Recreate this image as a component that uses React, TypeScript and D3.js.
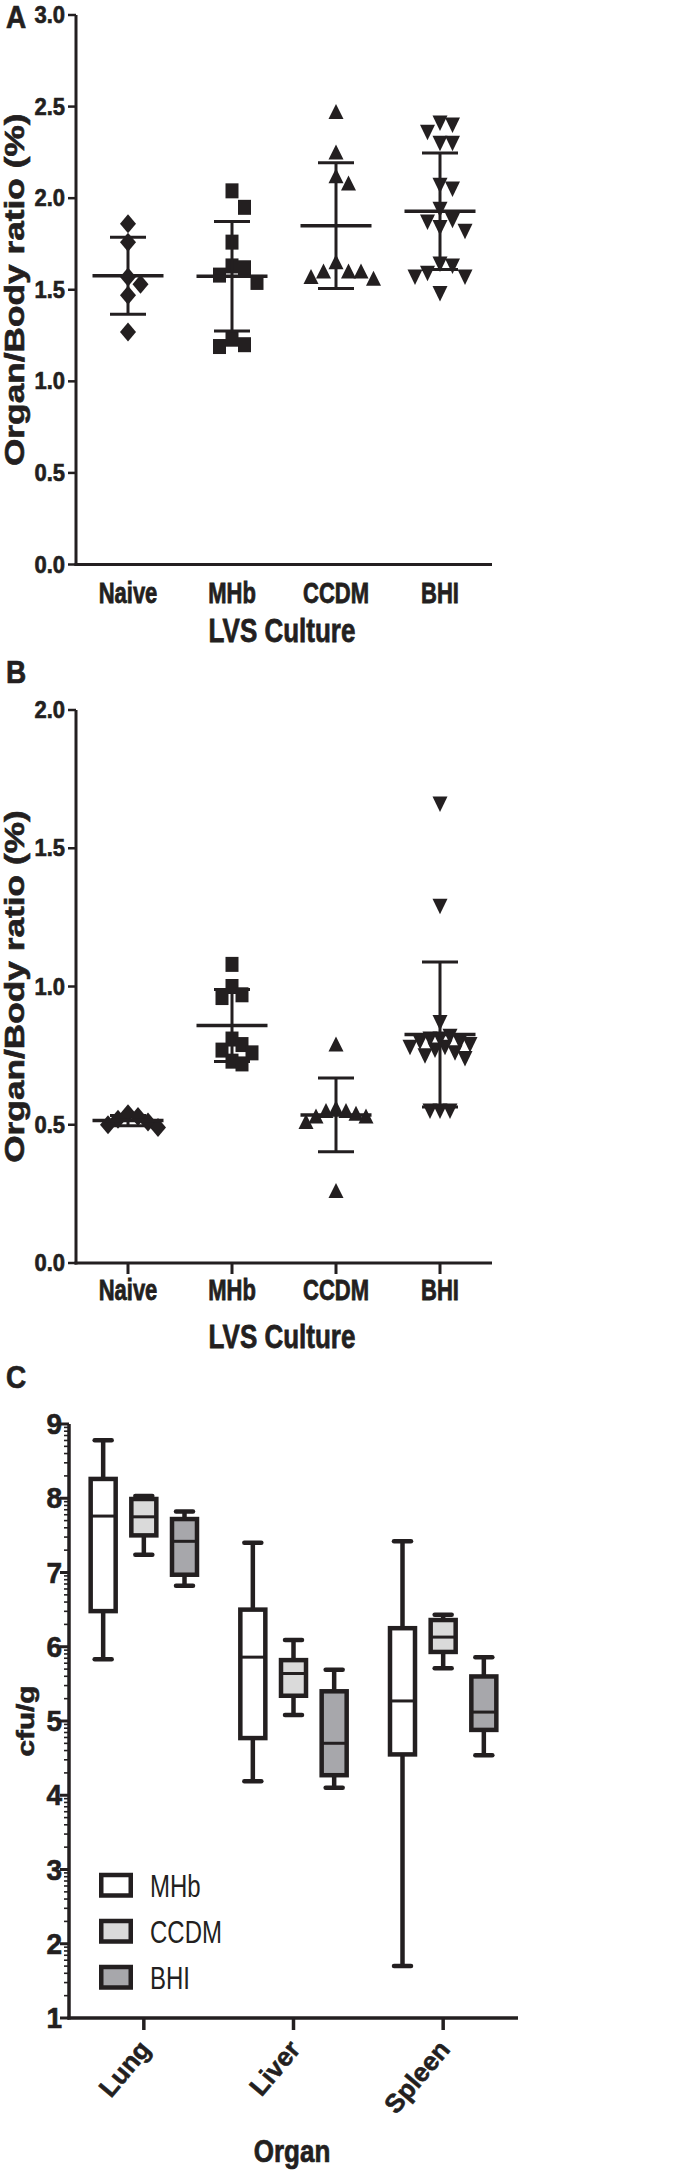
import * as d3 from 'd3'

const ink = '#231f20'
const font = "'Liberation Sans', Arial, Helvetica, sans-serif"

const cultures = ['Naive', 'MHb', 'CCDM', 'BHI']
const markerTypes = ['diamond', 'square', 'triangle', 'triangleDown']

// panel A: organ/body ratio, one array per culture
const naiveA = [1.86, 1.76, 1.57, 1.53, 1.47, 1.27]
const mhbA = [2.04, 1.95, 1.76, 1.63, 1.62, 1.58, 1.54, 1.23, 1.2, 1.19]
const ccdmA = [2.47, 2.25, 2.12, 2.08, 1.65, 1.6, 1.6, 1.6, 1.57, 1.56]
const bhiA = [2.41, 2.4, 2.36, 2.3, 2.3, 2.07, 2.05, 1.94, 1.88, 1.87, 1.84, 1.82, 1.64, 1.63, 1.59, 1.57, 1.57, 1.48]
const ticksA = [0, 0.5, 1, 1.5, 2, 2.5, 3]

// panel B
const naiveB = [0.54, 0.53, 0.52, 0.51, 0.5, 0.49]
const mhbB = [1.08, 1.0, 0.97, 0.96, 0.81, 0.79, 0.77, 0.76, 0.73, 0.72]
const ccdmB = [0.79, 0.56, 0.55, 0.55, 0.54, 0.53, 0.53, 0.51, 0.26]
const bhiB = [1.66, 1.29, 0.87, 0.82, 0.81, 0.81, 0.8, 0.8, 0.79, 0.78, 0.78, 0.77, 0.76, 0.75, 0.74, 0.55, 0.55, 0.55]
const ticksB = [0, 0.5, 1, 1.5, 2]

// panel C: box plots, [min, q1, median, q3, max]
const organs = ['Lung', 'Liver', 'Spleen']
const boxCultures = ['MHb', 'CCDM', 'BHI']
const boxFills = ['#ffffff', '#dadada', '#a7a7ab']
const lungBoxes = [[5.83, 6.48, 7.76, 8.26, 8.78], [7.24, 7.5, 7.75, 7.99, 8.03], [6.82, 6.97, 7.42, 7.72, 7.82]]
const liverBoxes = [[4.19, 4.77, 5.86, 6.5, 7.4], [5.08, 5.34, 5.64, 5.82, 6.09], [4.1, 4.27, 4.7, 5.4, 5.69]]
const spleenBoxes = [[1.7, 4.55, 5.27, 6.25, 7.42], [5.71, 5.93, 6.13, 6.36, 6.43], [4.54, 4.88, 5.12, 5.6, 5.86]]
const ticksC = [1, 2, 3, 4, 5, 6, 7, 8, 9]

// the figure is stretched vertically, so text gets a y scale
function Label({ x, y, size, k = 1.25, rotate = 0, anchor = 'middle', weight = 'bold', children }: any) {
  const heavy = weight === 'bold'
  return (
    <text
      transform={`translate(${x},${y}) scale(1,${k}) rotate(${rotate})`}
      fontSize={size}
      fontWeight={weight}
      fontFamily={font}
      textAnchor={anchor}
      fill={ink}
      stroke={heavy ? ink : 'none'}
      strokeWidth={heavy ? 0.6 : 0}
    >
      {children}
    </text>
  )
}

function markerPath(type: string, cx: number, cy: number) {
  if (type === 'diamond') return `M${cx},${cy - 9.5}L${cx + 8},${cy}L${cx},${cy + 9.5}L${cx - 8},${cy}Z`
  if (type === 'square') return `M${cx - 6.5},${cy - 7.5}h13v15h-13Z`
  if (type === 'triangle') return `M${cx},${cy - 8}L${cx + 7.5},${cy + 7}L${cx - 7.5},${cy + 7}Z`
  return `M${cx - 7.5},${cy - 7.5}L${cx + 7.5},${cy - 7.5}L${cx},${cy + 8}Z`
}

// simple beeswarm: spread points that sit close in y
function swarm(values: number[], y: (v: number) => number, s: number, h: number, K: number) {
  const order = d3.range(values.length).sort((a, b) => values[b] - values[a])
  const placed: { dx: number, py: number }[] = []
  const out: number[] = new Array(values.length).fill(0)
  const whole = [0]
  for (let k = 1; k <= K; k++) whole.push(k, -k)
  const half: number[] = []
  for (let k = 0; k < K; k++) half.push(k + 0.5, -(k + 0.5))
  for (const i of order) {
    const py = y(values[i])
    const hits = (c: number, tol: number) =>
      placed.filter(p => Math.abs(p.dx - c * s) < s * tol && Math.abs(p.py - py) < h).length
    let chosen = whole.find(c => hits(c, 0.9) === 0)
    if (chosen === undefined) chosen = half.find(c => hits(c, 0.4) === 0)
    if (chosen === undefined) chosen = d3.least(whole, c => hits(c, 0.4)) ?? 0
    placed.push({ dx: chosen * s, py })
    out[i] = chosen * s
  }
  return out
}

function ScatterPanel({ series, domain, range, ticks, letter, letterY, labelY, titleY, xTicks, spread }: any) {
  const x = d3.scaleBand(cultures, [76, 492])
  const y = d3.scaleLinear(domain, range)
  const [yBottom, yTop] = range
  const mid = (yBottom + yTop) / 2
  return (
    <g>
      <Label x={6} y={letterY} size={28} k={1.12} anchor="start">{letter}</Label>
      {series.map((vals: number[], i: number) => {
        const cx = (x(cultures[i]) ?? 0) + x.bandwidth() / 2
        const offs = swarm(vals, y, spread.s, spread.h, spread.K)
        const m = d3.mean(vals) ?? 0
        const sd = d3.deviation(vals) ?? 0
        return (
          <g key={cultures[i]}>
            {vals.map((v, j) => (
              <path key={j} d={markerPath(markerTypes[i], cx + offs[j], y(v))} fill={ink} />
            ))}
            <line x1={cx} x2={cx} y1={y(m + sd)} y2={y(m - sd)} stroke={ink} strokeWidth={3} />
            <line x1={cx - 18} x2={cx + 18} y1={y(m + sd)} y2={y(m + sd)} stroke={ink} strokeWidth={3} />
            <line x1={cx - 18} x2={cx + 18} y1={y(m - sd)} y2={y(m - sd)} stroke={ink} strokeWidth={3} />
            <line x1={cx - 35.5} x2={cx + 35.5} y1={y(m)} y2={y(m)} stroke={ink} strokeWidth={3.5} />
            {xTicks && <line x1={cx} x2={cx} y1={yBottom} y2={yBottom + 11} stroke={ink} strokeWidth={3} />}
            <Label x={cx} y={labelY} size={22} k={1.3}>{cultures[i]}</Label>
          </g>
        )
      })}
      <line x1={76} x2={76} y1={yTop} y2={yBottom + 1.5} stroke={ink} strokeWidth={3} />
      <line x1={74.5} x2={492} y1={yBottom} y2={yBottom} stroke={ink} strokeWidth={3} />
      {ticks.map((t: number) => (
        <g key={t}>
          <line x1={68} x2={76} y1={y(t)} y2={y(t)} stroke={ink} strokeWidth={2.5} />
          <Label x={65} y={y(t) + 8} size={22} k={1.12} anchor="end">{d3.format('.1f')(t)}</Label>
        </g>
      ))}
      <Label x={24} y={mid} size={28} k={1.26} rotate={-90}>Organ/Body ratio (%)</Label>
      <Label x={282} y={titleY} size={26} k={1.26}>LVS Culture</Label>
    </g>
  )
}

function BoxPanel() {
  const x = d3.scaleBand(organs, [69, 518])
  const inner = d3.scaleBand(boxCultures, [-61, 61])
  const y = d3.scaleLinear([1, 9], [2018, 1424])
  const boxes = [lungBoxes, liverBoxes, spleenBoxes]
  const minor: number[] = []
  for (let n = 1; n < 9; n++) for (let k = 2; k <= 9; k++) minor.push(n + Math.log10(k))
  const bw = 25
  const cap = 8.5
  return (
    <g>
      <Label x={6} y={1388} size={28} k={1.12} anchor="start">C</Label>
      {organs.map((org, oi) => {
        const gx = (x(org) ?? 0) + x.bandwidth() / 2
        return (
          <g key={org}>
            {boxCultures.map((c, ci) => {
              const [mn, q1, md, q3, mx] = boxes[oi][ci]
              const cx = gx + (inner(c) ?? 0) + inner.bandwidth() / 2
              return (
                <g key={c} stroke={ink} strokeWidth={4.5}>
                  <line x1={cx} x2={cx} y1={y(mx)} y2={y(mn)} />
                  <line x1={cx - cap} x2={cx + cap} y1={y(mx)} y2={y(mx)} strokeLinecap="round" />
                  <line x1={cx - cap} x2={cx + cap} y1={y(mn)} y2={y(mn)} strokeLinecap="round" />
                  <rect x={cx - bw / 2} y={y(q3)} width={bw} height={y(q1) - y(q3)} fill={boxFills[ci]} />
                  <line x1={cx - bw / 2} x2={cx + bw / 2} y1={y(md)} y2={y(md)} strokeWidth={3} />
                </g>
              )
            })}
            <line x1={gx} x2={gx} y1={2018} y2={2030} stroke={ink} strokeWidth={3.5} />
            <Label x={gx + 8} y={2050} size={26} k={1} rotate={-50} anchor="end">{org}</Label>
          </g>
        )
      })}
      {minor.map((t, i) => (
        <line key={i} x1={64} x2={69} y1={y(t)} y2={y(t)} stroke={ink} strokeWidth={1.6} />
      ))}
      {ticksC.map(t => (
        <g key={t}>
          <line x1={60} x2={69} y1={y(t)} y2={y(t)} stroke={ink} strokeWidth={3} />
          <Label x={62} y={y(t) + 10} size={28} k={1.05} anchor="end">{t}</Label>
        </g>
      ))}
      <line x1={69} x2={69} y1={1424} y2={2019.5} stroke={ink} strokeWidth={3.5} />
      <line x1={67.5} x2={518} y1={2018} y2={2018} stroke={ink} strokeWidth={3.5} />
      <Label x={34} y={1721} size={23} k={1.29} rotate={-90}>cfu/g</Label>
      <Label x={292} y={2162} size={26} k={1.2}>Organ</Label>
      {boxCultures.map((c, ci) => {
        const ly = 1875 + ci * 46
        return (
          <g key={c}>
            <rect x={101.25} y={ly} width={29.5} height={20.5} fill={boxFills[ci]} stroke={ink} strokeWidth={4.5} />
            <Label x={150} y={ly + 22} size={24} k={1.33} anchor="start" weight="normal">{c}</Label>
          </g>
        )
      })}
    </g>
  )
}

export default function App() {
  return (
    <svg
      width={693}
      height={2176}
      style={{ position: 'absolute', left: 0, top: 0, background: '#fff' }}
    >
      <rect width={693} height={2176} fill="#fff" />
      <ScatterPanel
        series={[naiveA, mhbA, ccdmA, bhiA]}
        domain={[0, 3]}
        range={[564.5, 15]}
        ticks={ticksA}
        letter="A"
        letterY={28}
        labelY={603}
        titleY={642}
        xTicks={false}
        spread={{ s: 12.5, h: 18, K: 3 }}
      />
      <ScatterPanel
        series={[naiveB, mhbB, ccdmB, bhiB]}
        domain={[0, 2]}
        range={[1263, 710]}
        ticks={ticksB}
        letter="B"
        letterY={683}
        labelY={1300}
        titleY={1348}
        xTicks={true}
        spread={{ s: 10, h: 14, K: 3 }}
      />
      <BoxPanel />
    </svg>
  )
}
